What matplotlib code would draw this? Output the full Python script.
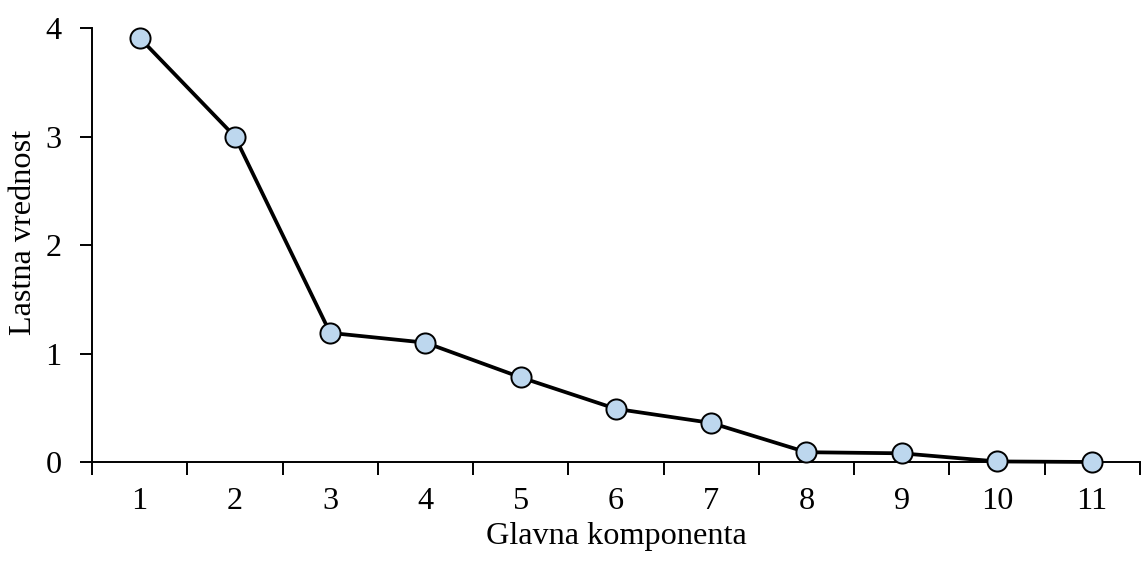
import matplotlib
matplotlib.use("Agg")
import matplotlib.pyplot as plt
from matplotlib.ticker import FixedLocator, NullFormatter

# podatki
komponente = [1, 2, 3, 4, 5, 6, 7, 8, 9, 10, 11]
lastne_vrednosti = [3.91, 3.00, 1.19, 1.10, 0.78, 0.49, 0.36, 0.09, 0.08, 0.005, 0.0]
y_ticks = [0, 1, 2, 3, 4]

plt.rcParams['font.family'] = ['Liberation Serif', 'DejaVu Serif']
fs = 23.2

fig = plt.figure(figsize=(11.44, 5.61), dpi=100)
ax = fig.add_axes([0.0804, 0.1765, 0.916, 0.7735])

ax.plot(komponente, lastne_vrednosti, color='black', linewidth=2.7,
        marker='o', markersize=14.5, markerfacecolor='#BDD7EE',
        markeredgecolor='black', markeredgewidth=1.4, clip_on=False, zorder=3)

ax.set_xlim(0.5, len(komponente) + 0.5)
ax.set_ylim(0, 4)

# kljukice med kategorijami (kot v Excelu)
ax.xaxis.set_major_locator(FixedLocator(komponente))
ax.xaxis.set_minor_locator(FixedLocator([k - 0.5 for k in komponente] + [len(komponente) + 0.5]))
ax.tick_params(axis='x', which='major', length=0, labelsize=fs, pad=18)
ax.tick_params(axis='x', which='minor', length=9, width=1.4, direction='out')
ax.xaxis.set_minor_formatter(NullFormatter())

ax.set_yticks(y_ticks)
ax.tick_params(axis='y', length=9, width=1.4, direction='out', labelsize=fs, pad=13)

for s in ['top', 'right']:
    ax.spines[s].set_visible(False)
for s in ['left', 'bottom']:
    ax.spines[s].set_linewidth(1.4)

ax.set_xlabel('Glavna komponenta', fontsize=fs, labelpad=4)
ax.set_ylabel('Lastna vrednost', fontsize=fs, labelpad=5)
ax.yaxis.label.set_y(0.528)

fig.savefig('out.png', dpi=100)
